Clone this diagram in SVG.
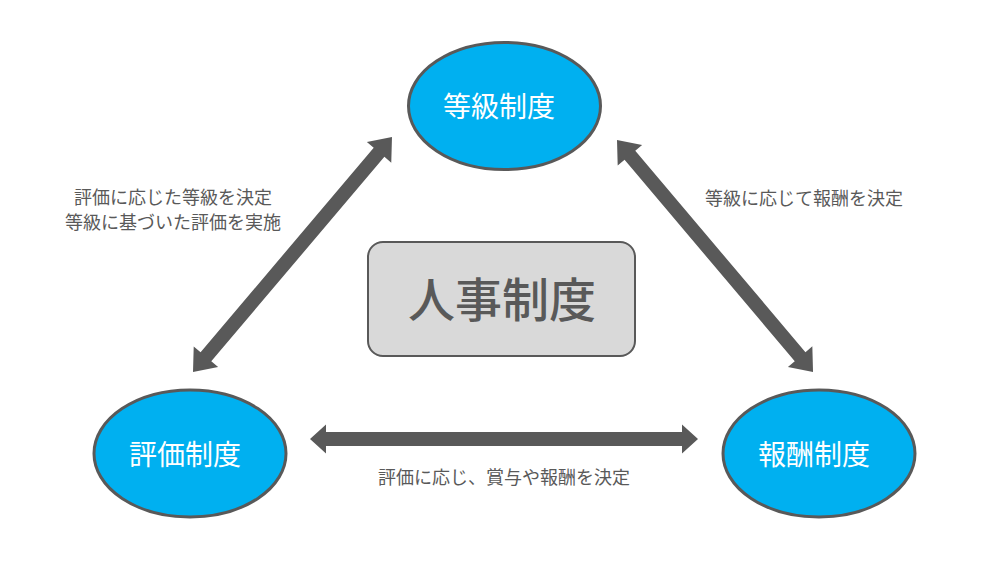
<svg xmlns="http://www.w3.org/2000/svg" width="994" height="562" viewBox="0 0 994 562">
<style>
.node{fill:#00B0F0;stroke:#595959;stroke-width:3}
.ntext{font-family:"Noto Sans CJK JP","Noto Sans",sans-serif;font-size:28px;fill:#FFFFFF;text-anchor:middle}
.lbl{font-family:"Noto Sans CJK JP","Noto Sans",sans-serif;font-size:18px;fill:#595959;text-anchor:middle}
.arr{fill:#595959}
</style>
<rect width="994" height="562" fill="#FFFFFF"/>
<g id="connectors">
<g transform="translate(193,372) rotate(-49.74)"><polygon class="arr" points="0,0 20,-16 20,-7 287.9,-7 287.9,-16 307.9,0 287.9,16 287.9,7 20,7 20,16"/></g>
<g transform="translate(617,140) rotate(49.8)"><polygon class="arr" points="0,0 20,-16 20,-7 283.7,-7 283.7,-16 303.7,0 283.7,16 283.7,7 20,7 20,16"/></g>
<g transform="translate(310,439)"><polygon class="arr" points="0,0 16,-14.5 16,-7 372,-7 372,-14.5 388,0 372,14.5 372,7 16,7 16,14.5"/></g>
<text class="lbl" x="173" y="204">評価に応じた等級を決定</text>
<text class="lbl" x="173" y="229">等級に基づいた評価を実施</text>
<text class="lbl" x="804" y="205">等級に応じて報酬を決定</text>
<text class="lbl" x="504" y="484">評価に応じ、賞与や報酬を決定</text>
</g>
<g id="center">
<rect x="368" y="242" width="267" height="114" rx="15" ry="15" fill="#D9D9D9" stroke="#595959" stroke-width="2"/>
<text x="502" y="317" font-family="'Noto Sans CJK JP','Noto Sans',sans-serif" font-size="47" font-weight="500" fill="#595959" text-anchor="middle">人事制度</text>
</g>
<g id="grade">
<ellipse class="node" cx="504.5" cy="106" rx="96" ry="63.5"/>
<text class="ntext" x="499" y="117">等級制度</text>
</g>
<g id="evaluation">
<ellipse class="node" cx="190" cy="453.5" rx="96" ry="63.5"/>
<text class="ntext" x="185" y="465">評価制度</text>
</g>
<g id="reward">
<ellipse class="node" cx="819" cy="453.5" rx="96" ry="63.5"/>
<text class="ntext" x="814" y="465">報酬制度</text>
</g>
</svg>
